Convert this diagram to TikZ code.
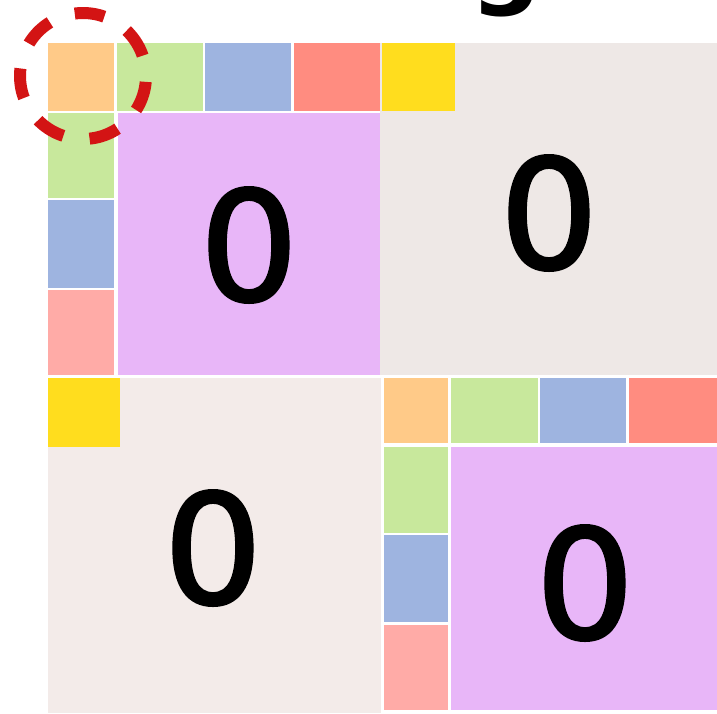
\documentclass[tikz,border=0pt]{standalone}
\usepackage{fontspec}
\setmainfont{DejaVu Sans}
\newfontfamily\zerofont{DejaVu Sans}[FakeBold=2]
\definecolor{orangeC}{HTML}{FFCA88}
\definecolor{vertC}{HTML}{C8E89C}
\definecolor{bleuC}{HTML}{9EB4E0}
\definecolor{rougeT}{HTML}{FF8C80}
\definecolor{roseC}{HTML}{FFABA7}
\definecolor{jauneC}{HTML}{FFDD1E}
\definecolor{violetC}{HTML}{E8B6F8}
\definecolor{grisC}{HTML}{EEE8E6}
\definecolor{grisD}{HTML}{F3EBE9}
\definecolor{rougeCercle}{HTML}{D31414}
\begin{document}
\begin{tikzpicture}[line cap=butt,line join=round,x=1pt,y=-1pt,
	zero/.style={font=\zerofont\fontsize{152}{152}\selectfont,inner sep=0pt,xscale=1.02},
	titre/.style={font=\fontsize{100}{100}\selectfont\bfseries,inner sep=0pt,anchor=base},
	cercle/.style={draw=rougeCercle,line width=12pt,dash pattern=on 30pt off 26.55pt,dash phase=50.7pt}]
			\clip (0,0) rectangle (717,713);
			\fill[white] (0,0) rectangle (717,713);
			% titre coupe
			\node[titre] (titre) at (506,-5) {g};
			% Bloc 1
			\fill[grisC] (380,43) rectangle (717,375);
			\fill[orangeC] (48,43) rectangle (114,111);
			\fill[vertC] (117,43) rectangle (203,111);
			\fill[bleuC] (205,43) rectangle (291,111);
			\fill[rougeT] (294,43) rectangle (380,111);
			\fill[jauneC] (382,43) rectangle (455,111);
			\fill[vertC] (48,113) rectangle (114,198);
			\fill[bleuC] (48,200) rectangle (114,288);
			\fill[roseC] (48,290) rectangle (114,375);
			\fill[violetC] (118,113) rectangle (380,375);
			% Bloc 2
			\fill[grisD] (48,378) rectangle (381,713);
			\fill[jauneC] (48,378) rectangle (120,447);
			\fill[orangeC] (384,378) rectangle (448,443);
			\fill[vertC] (451,378) rectangle (538,443);
			\fill[bleuC] (540,378) rectangle (626,443);
			\fill[rougeT] (629,378) rectangle (717,443);
			\fill[vertC] (384,447) rectangle (448,533);
			\fill[bleuC] (384,535) rectangle (448,622);
			\fill[roseC] (384,625) rectangle (448,710);
			\fill[violetC] (451,447) rectangle (717,710);
			% les zeros
			\node[zero] (zA) at (249,245) {0};
			\node[zero] (zB) at (549,213) {0};
			\node[zero] (zC) at (213,548) {0};
			\node[zero] (zD) at (585,583) {0};
			% marquage
			\draw[cercle] (83,76) circle (63);
	\end{tikzpicture}
\end{document}
